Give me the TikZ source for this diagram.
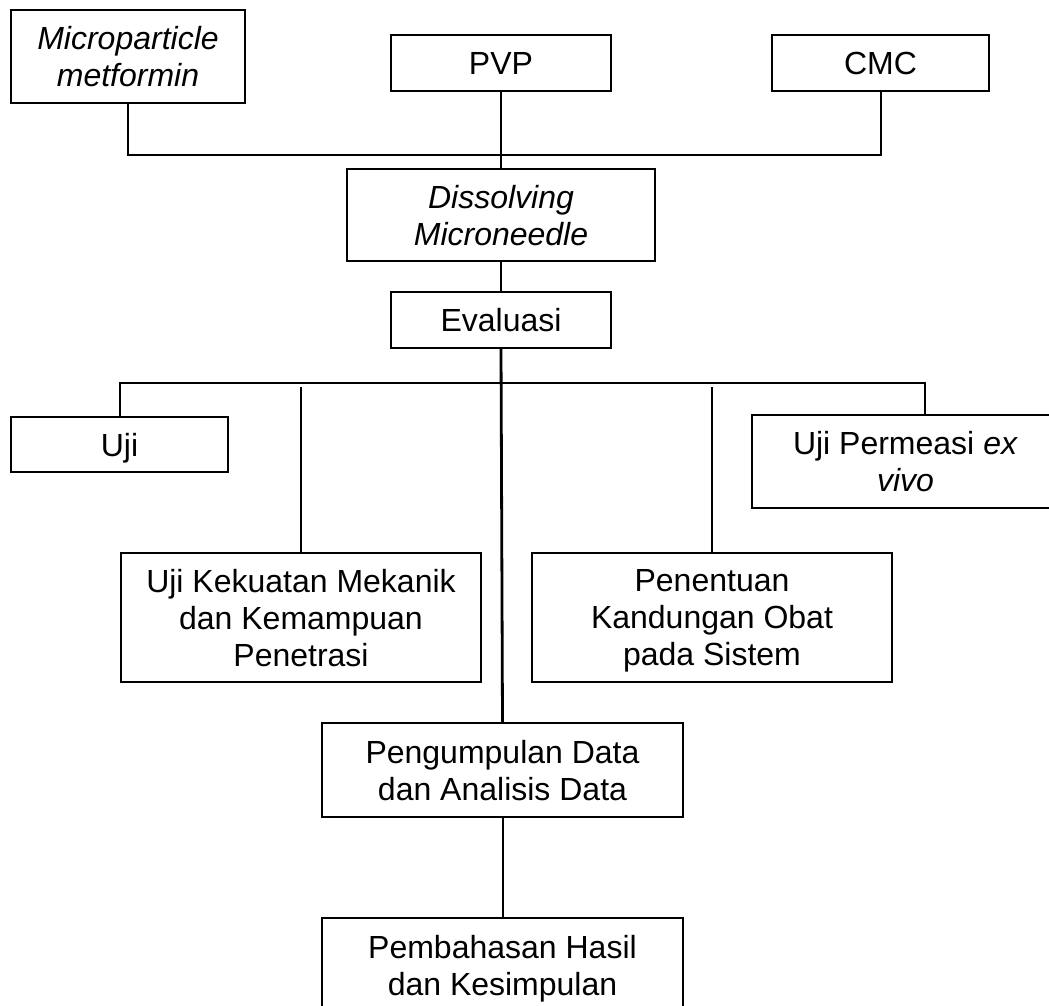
\documentclass[tikz,border=0pt]{standalone}
\usepackage{fontspec}
\setmainfont{Liberation Sans}
\tikzset{
  box/.style={draw,line width=1.8pt,inner sep=0pt,align=center,
    font=\fontsize{32}{37}\selectfont,text depth=-9pt},
  link/.style={line width=2pt},
  trunk/.style={line width=2.8pt}
}
\begin{document}
\begin{tikzpicture}[x=1pt,y=-1pt]
\useasboundingbox (0,0) rectangle (1049,1005);
\clip (0,0) rectangle (1049,1005);
%bahan
\node[box,minimum width=234pt,minimum height=93pt] (micro) at (128,56.5) {\textit{Microparticle}\\\textit{metformin}};
\node[box,minimum width=220pt,minimum height=56pt] (pvp) at (501,63) {PVP};
\node[box,minimum width=217pt,minimum height=56pt] (cmc) at (880.5,63) {CMC};
\node[box,minimum width=308pt,minimum height=92pt] (dmn) at (501,215) {\textit{Dissolving}\\\textit{Microneedle}};
\node[box,minimum width=220pt,minimum height=56pt] (eval) at (501,320) {Evaluasi};
%uji
\node[box,minimum width=217pt,minimum height=55pt] (uji) at (119.5,444.5) {Uji};
\node[box,minimum width=307pt,minimum height=93pt] (perm) at (905.5,461.5) {Uji Permeasi \textit{ex}\\\textit{vivo}};
\node[box,minimum width=360pt,minimum height=129pt] (kuat) at (301,617.5) {Uji Kekuatan Mekanik\\dan Kemampuan\\Penetrasi};
\node[box,minimum width=360pt,minimum height=129pt] (kadar) at (712,617.5) {Penentuan\\Kandungan Obat\\pada Sistem};
\node[box,minimum width=361pt,minimum height=94pt] (data) at (502.5,770) {Pengumpulan Data\\dan Analisis Data};
\node[box,minimum width=361pt,minimum height=94pt] (hasil) at (502.5,965) {Pembahasan Hasil\\dan Kesimpulan};
%garis
\coordinate (join) at (501,155);
\coordinate (hub) at (501,383);
\coordinate (pin) at (925,415);
\draw[link] (micro.south) |- (join) -| (cmc.south);
\draw[link] (pvp.south) -- (dmn.north);
\draw[link] (dmn.south) -- (eval.north);
\draw[trunk] (eval.south) -- (data.north);
\draw[link] (uji.north) |- (hub) -| (pin);
\draw[link] (kuat.north) -- ([yshift=-4pt]kuat.north |- hub);
\draw[link] (kadar.north) -- ([yshift=-4pt]kadar.north |- hub);
\draw[link] (data.south) -- (hasil.north);
\end{tikzpicture}
\end{document}
